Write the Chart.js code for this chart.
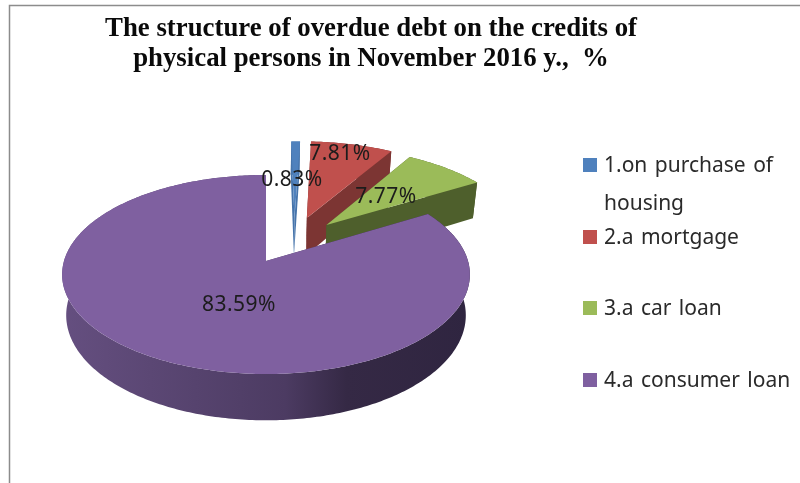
<!DOCTYPE html>
<html>
<head>
<meta charset="utf-8">
<title>Overdue debt structure</title>
<script src="https://cdn.jsdelivr.net/npm/chart.js@4"></script>
<style>
  html, body { margin: 0; padding: 0; background: #fff; }
  canvas { display: block; }
</style>
</head>
<body>
<canvas id="chart" width="800" height="483"></canvas>
<script>
const categories = [
  ['1.on purchase of', 'housing'],
  '2.a mortgage',
  '3.a car loan',
  '4.a consumer loan'
];
const shares = [0.83, 7.81, 7.77, 83.59];
const sliceColors = ['#4f81bd', '#c0504d', '#9bbb59', '#7f60a0'];
const wallColors = ['#4674ab', '#7c3533', '#4e5f2c', '#4a3a5f'];
// how far each slice is pulled out of the pie, in pie radii
const pullX = [0.15, 0.215, 0.315, 0];
const pullY = [-0.468, -0.468, -0.387, 0];
const labelX = [292, 340, 386, 239];
const labelY = [180, 154, 197, 305];
const legendY = [166, 238, 309, 381];

// perspective view of the pie plane
const view = { cx: 266, cy: 261, rx: 202, ry: 97.7, tilt: 0.1357, depth: 40, shrink: 0.98 };

function project(u, v) {
  const w = 1 - view.tilt * v;
  return { x: view.cx + view.rx * u / w, y: view.cy + view.ry * v / w, w };
}

function lower(p) {
  return { x: view.cx + (p.x - view.cx) * view.shrink, y: p.y + view.depth / p.w };
}

function fillPoly(ctx, pts, fill) {
  ctx.beginPath();
  pts.forEach((p, i) => (i ? ctx.lineTo(p.x, p.y) : ctx.moveTo(p.x, p.y)));
  ctx.closePath();
  ctx.fillStyle = fill;
  ctx.fill();
}

const pie3d = {
  id: 'pie3d',
  beforeDraw(chart) {
    // thin frame along the top and left
    const ctx = chart.ctx;
    ctx.save();
    ctx.strokeStyle = '#8c8c8c';
    ctx.lineWidth = 1.5;
    ctx.beginPath();
    ctx.moveTo(9.5, 483);
    ctx.lineTo(9.5, 5.5);
    ctx.lineTo(800, 5.5);
    ctx.stroke();
    ctx.restore();
  },
  beforeDatasetsDraw(chart) {
    const ctx = chart.ctx;
    const arcs = chart.getDatasetMeta(0).data;
    arcs.forEach((arc, i) => {
      const a0 = arc.startAngle;
      const a1 = arc.endAngle;
      const steps = Math.max(2, Math.ceil((a1 - a0) / 0.015));
      const rim = [];
      for (let s = 0; s <= steps; s++) {
        const a = a0 + (a1 - a0) * s / steps;
        rim.push(project(pullX[i] + Math.cos(a), pullY[i] + Math.sin(a)));
      }
      const apex = project(pullX[i], pullY[i]);
      let wall = wallColors[i];
      if (i === 3) {
        wall = ctx.createLinearGradient(61, 0, 469, 0);
        wall.addColorStop(0, '#654f80');
        wall.addColorStop(0.55, '#4c3b62');
        wall.addColorStop(0.7, '#352945');
        wall.addColorStop(1, '#2f2540');
      }
      const first = rim[0];
      const last = rim[rim.length - 1];
      fillPoly(ctx, [apex, first, lower(first), lower(apex)], wall);
      fillPoly(ctx, rim.concat(rim.map(lower).reverse()), wall);
      fillPoly(ctx, [apex, last, lower(last), lower(apex)], wall);
      fillPoly(ctx, [apex].concat(rim), sliceColors[i]);
    });
    return false;
  },
  afterDraw(chart) {
    const ctx = chart.ctx;
    ctx.save();
    ctx.fillStyle = '#1c1c1c';
    ctx.textBaseline = 'middle';
    ctx.textAlign = 'center';
    ctx.font = '21px "Noto Sans"';
    ctx.letterSpacing = '0.5px';
    shares.forEach((v, i) => {
      ctx.fillText(v.toFixed(2) + '%', labelX[i], labelY[i]);
    });
    // legend with uneven row spacing
    ctx.textAlign = 'left';
    ctx.font = '21px "Noto Sans"';
    ctx.letterSpacing = '0px';
    ctx.wordSpacing = '2px';
    categories.forEach((label, i) => {
      ctx.fillStyle = sliceColors[i];
      ctx.fillRect(583, legendY[i] - 8, 14, 14);
      ctx.fillStyle = '#2a2a2a';
      [].concat(label).forEach((line, n) => {
        ctx.fillText(line, 604, legendY[i] + n * 38);
      });
    });
    ctx.restore();
  }
};

new Chart(document.getElementById('chart'), {
  type: 'pie',
  data: {
    labels: categories,
    datasets: [{ data: shares, backgroundColor: sliceColors, borderWidth: 0 }]
  },
  options: {
    responsive: false,
    animation: false,
    layout: { padding: { right: 58 } },
    plugins: {
      legend: { display: false },
      tooltip: { enabled: false },
      title: {
        display: true,
        text: ['The structure of overdue debt on the credits of', 'physical persons in November 2016 y.,  %'],
        color: '#0a0a0a',
        font: { family: '"Liberation Serif"', size: 26.8, weight: 'bold', lineHeight: 1.12 },
        padding: { top: 14, bottom: 8 }
      }
    }
  },
  plugins: [pie3d]
});
</script>
</body>
</html>
